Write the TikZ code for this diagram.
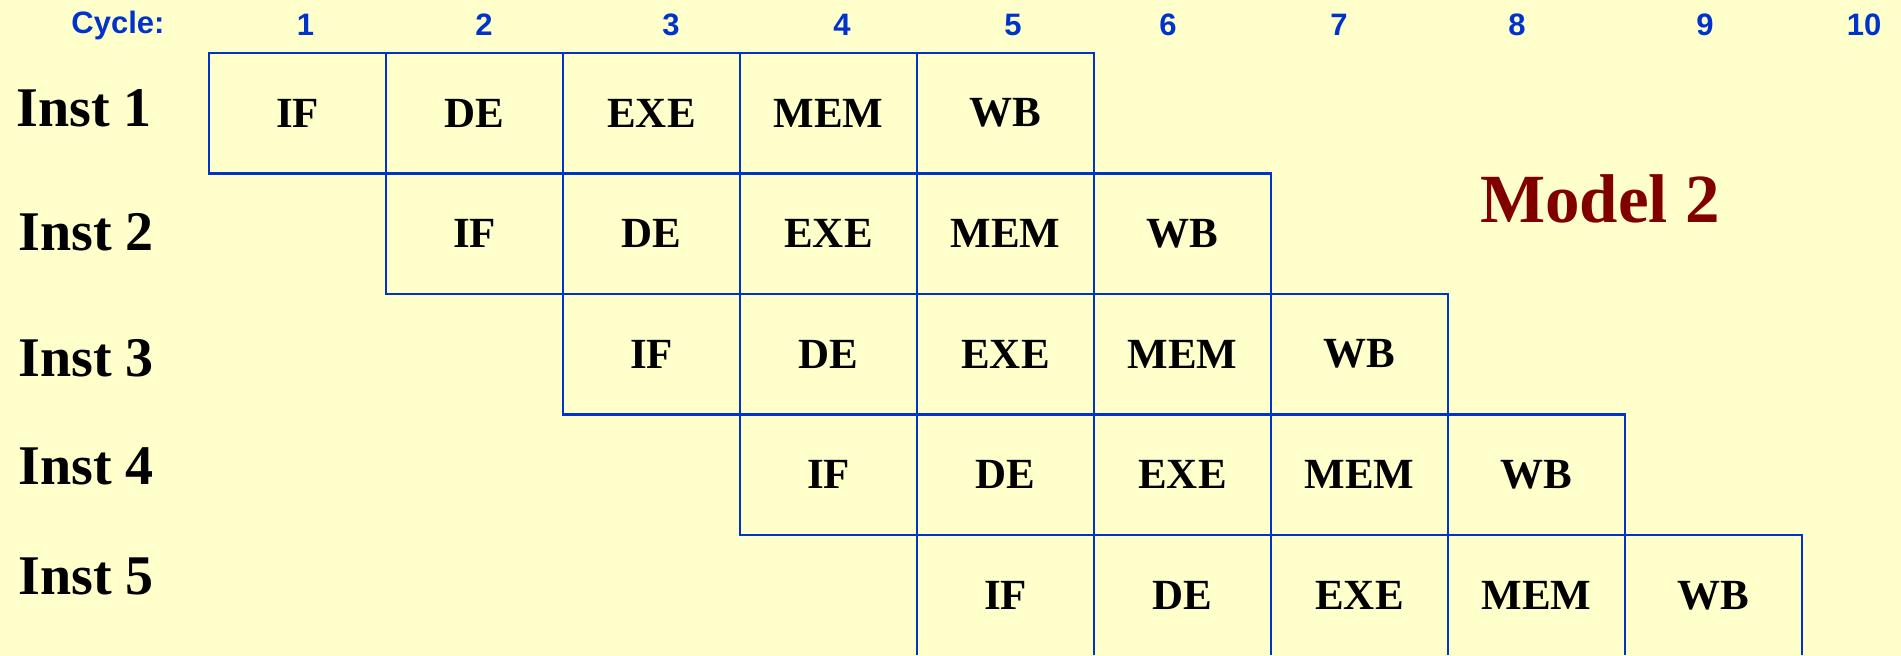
\documentclass[tikz,border=0pt]{standalone}
\usepackage{fontspec}
\setmainfont{Liberation Serif}
\newfontfamily\cycfont{Liberation Sans}
\usepackage{xcolor}
\usepackage{tikz}
\usetikzlibrary{positioning}
\definecolor{bgyel}{RGB}{255,255,204}
\definecolor{gridblue}{RGB}{0,51,204}
\definecolor{modelred}{RGB}{128,0,0}

\begin{document}
\begin{tikzpicture}[x=0.5pt,y=-0.5pt,node distance=0pt,every node/.style={font=\bfseries\fontsize{21.5}{25}\selectfont}]
\tikzstyle{st}=[draw=gridblue,line width=1.25pt,minimum width=88.5pt,minimum height=60.25pt,inner sep=0pt,outer sep=0pt]
\tikzstyle{stopen}=[st,draw=none]
\tikzstyle{inst}=[anchor=west,inner sep=0pt,font=\bfseries\fontsize{28}{33}\selectfont]
\tikzstyle{cyc}=[text=gridblue,inner sep=0pt,font=\cycfont\bfseries\fontsize{15.5}{18}\selectfont]
\fill[bgyel] (0,0) rectangle (1901,656);
\useasboundingbox (0,0) rectangle (1901,656);

% cycle numbers
\node[cyc] (cycle) at (118,25) {Cycle:};
\node[cyc] (cy1) at (305.5,25) {1};
\node[cyc] (cy2) at (484,25) {2};
\node[cyc] (cy3) at (671,25) {3};
\node[cyc] (cy4) at (842,25) {4};
\node[cyc] (cy5) at (1013,25) {5};
\node[cyc] (cy6) at (1168,25) {6};
\node[cyc] (cy7) at (1339,25) {7};
\node[cyc] (cy8) at (1517,25) {8};
\node[cyc] (cy9) at (1705,25) {9};
\node[cyc] (cy10) at (1864,25) {10};

% instructions
\node[inst] (inst1) at (16,108.5) {Inst 1};
\node[inst] (inst2) at (18,232.5) {Inst 2};
\node[inst] (inst3) at (18,358) {Inst 3};
\node[inst] (inst4) at (18,466.5) {Inst 4};
\node[inst] (inst5) at (18,576) {Inst 5};

% stages
\node[st] (i1if) at (297.5,113.25) {IF};
\node[st,right=of i1if] (i1de) {DE};
\node[st,right=of i1de] (i1exe) {EXE};
\node[st,right=of i1exe] (i1mem) {MEM};
\node[st,right=of i1mem] (i1wb) {WB};

\node[st,below=of i1de] (i2if) {IF};
\node[st,right=of i2if] (i2de) {DE};
\node[st,right=of i2de] (i2exe) {EXE};
\node[st,right=of i2exe] (i2mem) {MEM};
\node[st,right=of i2mem] (i2wb) {WB};

\node[st,below=of i2de] (i3if) {IF};
\node[st,right=of i3if] (i3de) {DE};
\node[st,right=of i3de] (i3exe) {EXE};
\node[st,right=of i3exe] (i3mem) {MEM};
\node[st,right=of i3mem] (i3wb) {WB};

\node[st,below=of i3de] (i4if) {IF};
\node[st,right=of i4if] (i4de) {DE};
\node[st,right=of i4de] (i4exe) {EXE};
\node[st,right=of i4exe] (i4mem) {MEM};
\node[st,right=of i4mem] (i4wb) {WB};

\node[stopen,below=of i4de] (i5if) {IF};
\node[stopen,right=of i5if] (i5de) {DE};
\node[stopen,right=of i5de] (i5exe) {EXE};
\node[stopen,right=of i5exe] (i5mem) {MEM};
\node[stopen,right=of i5mem] (i5wb) {WB};

% last row runs off the bottom
\draw[gridblue,line width=1.25pt] (i5if.south west) -- (i5if.north west) -- (i5wb.north east) -- (i5wb.south east);
\foreach \s in {de,exe,mem,wb}
  \draw[gridblue,line width=1.25pt] (i5\s.north west) -- (i5\s.south west);

\node[text=modelred,font=\bfseries\fontsize{34.5}{40}\selectfont] (model) at (1600,198.5) {Model 2};
\end{tikzpicture}
\end{document}
